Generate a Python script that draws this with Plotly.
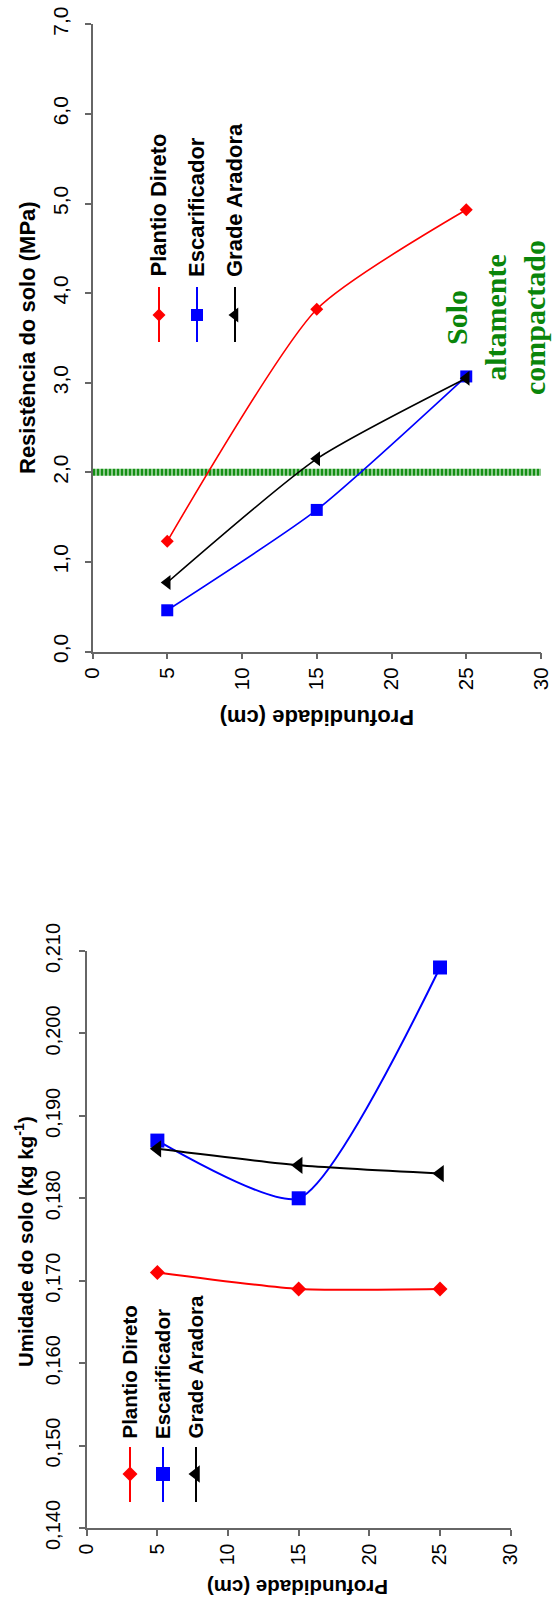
import plotly.graph_objects as go

# ---------------- data ----------------
depth = [5, 15, 25]
series_names = ["Plantio Direto", "Escarificador", "Grade Aradora"]
resist_pd = [1.23, 3.82, 4.93]
resist_es = [0.46, 1.58, 3.07]
resist_ga = [0.77, 2.15, 3.05]
umid_pd = [0.171, 0.169, 0.169]
umid_es = [0.187, 0.180, 0.208]
umid_ga = [0.186, 0.184, 0.183]
threshold_depth = [0, 30]
threshold_resist = 2.0
depth_ticks = [0, 5, 10, 15, 20, 25, 30]
resist_ticks = [0, 1, 2, 3, 4, 5, 6, 7]
umid_ticks = [0.14, 0.15, 0.16, 0.17, 0.18, 0.19, 0.20, 0.21]

# ---------------- styles ----------------
W, H = 552, 1606
colors = ["#FF0000", "#0000FF", "#000000"]
symbols = ["diamond", "square", "triangle-left"]
top_sizes = [10, 12, 13]
bot_sizes = [11.5, 14, 15]
SMOOTH = 0.6
SANS = "Liberation Sans, Arial, sans-serif"
NARROW = "Liberation Sans Narrow, Arial Narrow, Liberation Sans, Arial, sans-serif"
AXC = "#666666"

fig = go.Figure()

# threshold line (top chart)
fig.add_trace(go.Scatter(
    x=threshold_depth, y=[threshold_resist] * len(threshold_depth),
    mode="lines", line=dict(color="#159015", width=7, dash="3px,1px"),
    xaxis="x", yaxis="y", showlegend=False, hoverinfo="skip"))

for vals, c, s, sz in zip([resist_pd, resist_es, resist_ga], colors, symbols, top_sizes):
    fig.add_trace(go.Scatter(
        x=depth, y=vals, mode="lines+markers",
        line=dict(color=c, width=1.6, shape="spline", smoothing=SMOOTH),
        marker=dict(color=c, symbol=s, size=sz, line=dict(width=0)),
        xaxis="x", yaxis="y", showlegend=False, cliponaxis=False))

for vals, c, s, sz in zip([umid_pd, umid_es, umid_ga], colors, symbols, bot_sizes):
    fig.add_trace(go.Scatter(
        x=depth, y=vals, mode="lines+markers",
        line=dict(color=c, width=2, shape="spline", smoothing=SMOOTH),
        marker=dict(color=c, symbol=s, size=sz, line=dict(width=0)),
        xaxis="x2", yaxis="y2", showlegend=False, cliponaxis=False))

# ---------------- rotated legends (pixel overlay axis) ----------------
annotations = []
legend_specs = [
    dict(xs=[159, 197, 235], y0=287, y1=342, ym=315, yt=279, fs=22, ms=top_sizes),
    dict(xs=[130, 163, 196], y0=1447, y1=1502, ym=1474, yt=1441, fs=20.5, ms=bot_sizes),
]
for spec in legend_specs:
    for name, lx, c, s, sz in zip(series_names, spec["xs"], colors, symbols, spec["ms"]):
        fig.add_trace(go.Scatter(
            x=[lx, lx], y=[spec["y0"], spec["y1"]], mode="lines",
            line=dict(color=c, width=2), xaxis="x3", yaxis="y3",
            showlegend=False, hoverinfo="skip", cliponaxis=False))
        fig.add_trace(go.Scatter(
            x=[lx], y=[spec["ym"]], mode="markers",
            marker=dict(color=c, symbol=s, size=sz, line=dict(width=0)),
            xaxis="x3", yaxis="y3", showlegend=False, hoverinfo="skip", cliponaxis=False))
        annotations.append(dict(
            x=lx - 1, y=spec["yt"], xref="x3", yref="y3", text="<b>" + name + "</b>",
            showarrow=False, textangle=-90, xanchor="center", yanchor="bottom",
            font=dict(family=SANS, size=spec["fs"], color="#000000")))

# axis titles and note
annotations += [
    dict(x=27, y=338, xref="x3", yref="y3", text="<b>Resistência do solo (MPa)</b>",
         showarrow=False, textangle=-90, xanchor="center", yanchor="middle",
         font=dict(family=SANS, size=22, color="#000000")),
    dict(x=317, y=718, xref="x3", yref="y3", text="<b>Profundidade (cm)</b>",
         showarrow=False, textangle=180, xanchor="center", yanchor="middle",
         font=dict(family=SANS, size=22, color="#000000")),
    dict(x=24, y=1242, xref="x3", yref="y3",
         text="<b>Umidade do solo (kg kg<sup>-1</sup>)</b>",
         showarrow=False, textangle=-90, xanchor="center", yanchor="middle",
         font=dict(family=SANS, size=20.5, color="#000000")),
    dict(x=298, y=1588, xref="x3", yref="y3", text="<b>Profundidade (cm)</b>",
         showarrow=False, textangle=180, xanchor="center", yanchor="middle",
         font=dict(family=SANS, size=20.5, color="#000000")),
    dict(x=495, y=318, xref="x3", yref="y3",
         text="<b>Solo<br>altamente<br>compactado</b>",
         showarrow=False, textangle=-90, xanchor="center", yanchor="middle",
         align="center",
         font=dict(family="Liberation Serif, Times New Roman, serif", size=30, color="#0A850A")),
]


def px_x(p):
    return p / W


def px_y(p):
    return 1 - p / H


common = dict(showline=True, linecolor=AXC, linewidth=1.5, ticks="outside",
              ticklen=6, tickcolor=AXC, tickwidth=1.5, showgrid=False,
              zeroline=False, fixedrange=True, automargin=False,
              ticklabeloverflow="allow")

fig.update_layout(
    width=W, height=H, margin=dict(l=0, r=0, t=0, b=0, pad=0, autoexpand=False),
    paper_bgcolor="white", plot_bgcolor="rgba(0,0,0,0)",
    separators=",.", showlegend=False,
    xaxis=dict(domain=[px_x(92.5), px_x(541)], anchor="y", range=[0, 30],
               tickvals=depth_ticks, tickangle=-90,
               tickfont=dict(family=SANS, size=20.5, color="#000"), **common),
    yaxis=dict(domain=[px_y(651.5), px_y(24.3)], anchor="x", range=[0, 7],
               tickvals=resist_ticks, tickformat=".1f", tickangle=-90,
               ticklabelstandoff=8,
               tickfont=dict(family=NARROW, size=21, color="#000"), **common),
    xaxis2=dict(domain=[px_x(86.7), px_x(510.7)], anchor="y2", range=[0, 30],
                tickvals=depth_ticks, tickangle=-90,
                tickfont=dict(family=SANS, size=19.5, color="#000"), **common),
    yaxis2=dict(domain=[px_y(1528), px_y(951)], anchor="x2", range=[0.14, 0.21],
                tickvals=umid_ticks, tickformat=".3f", tickangle=-90,
                ticklabelstandoff=11,
                tickfont=dict(family=NARROW, size=20, color="#000"), **common),
    xaxis3=dict(domain=[0, 1], anchor="y3", range=[0, W], visible=False,
                fixedrange=True, automargin=False),
    yaxis3=dict(domain=[0, 1], anchor="x3", range=[H, 0], visible=False,
                fixedrange=True, automargin=False),
    annotations=annotations,
)

fig.write_html("out.html", config={"displayModeBar": False},
               post_script="document.body.style.margin='0';")
